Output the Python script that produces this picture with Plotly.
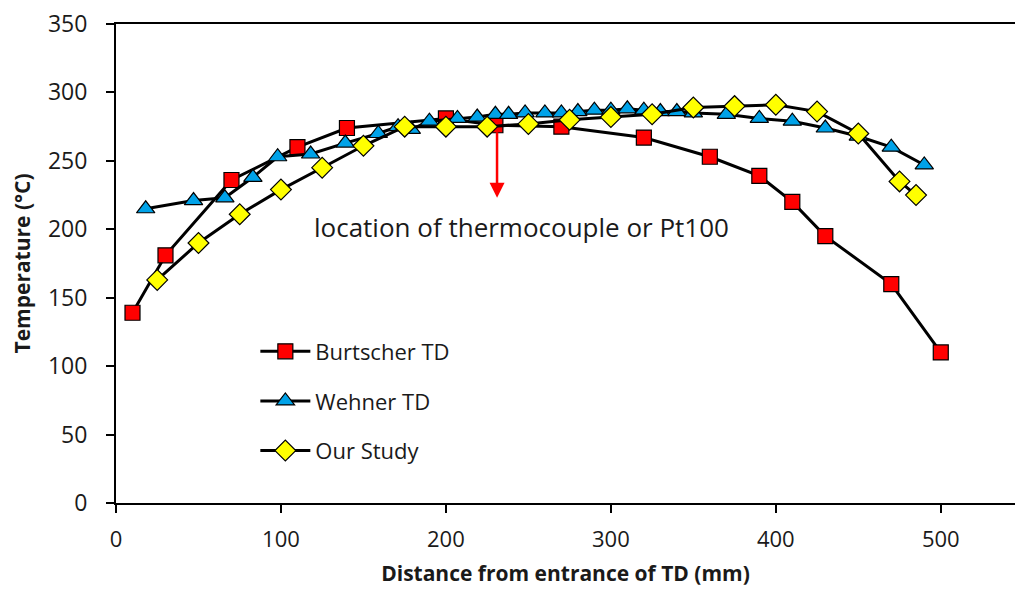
import plotly.graph_objects as go

burt_x = [10, 30, 70, 110, 140, 200, 230, 270, 320, 360, 390, 410, 430, 470, 500]
burt_y = [139, 181, 236, 260, 274, 281, 276, 275, 267, 253, 239, 220, 195, 160, 110]

weh_x = [18, 47, 66, 83, 98, 118, 139, 159, 171, 179, 190, 207, 219, 230, 238, 248,
         260, 270, 280, 290, 300, 310, 320, 330, 340, 350, 370, 390, 410, 430, 450, 470, 490]
weh_y = [215, 221, 223, 238, 253, 255, 263, 270, 275, 273, 279, 281, 282, 284, 284, 285,
         285, 285, 286, 287, 287, 288, 287, 286, 286, 285, 284, 281, 279, 274, 268, 260, 247]

our_x = [25, 50, 75, 100, 125, 150, 175, 200, 225, 250, 275, 300, 325, 350, 375, 400, 425, 450, 475, 485]
our_y = [163, 190, 211, 229, 245, 261, 275, 275, 275, 277, 280, 282, 284, 289, 290, 291, 286, 270, 235, 225]

x_ticks = [0, 100, 200, 300, 400, 500]
y_ticks = [0, 50, 100, 150, 200, 250, 300, 350]

font_fam = "Open Sans, Liberation Sans, sans-serif"

fig = go.Figure()
fig.add_trace(go.Scatter(x=burt_x, y=burt_y, mode="lines+markers", name="Burtscher TD",
                         legendgroup="a",
                         line=dict(color="black", width=3),
                         marker=dict(symbol="square", size=15, color="#ff0000",
                                     line=dict(color="black", width=1.2))))
fig.add_trace(go.Scatter(x=weh_x, y=weh_y, mode="lines+markers", name="Wehner TD",
                         legendgroup="b",
                         line=dict(color="black", width=3),
                         marker=dict(symbol="triangle-up", size=16, color="#00a2e8",
                                     line=dict(color="black", width=1.2))))
fig.add_trace(go.Scatter(x=our_x, y=our_y, mode="lines+markers", name="Our Study",
                         legendgroup="c",
                         line=dict(color="black", width=3),
                         marker=dict(symbol="diamond", size=16, color="#ffff00",
                                     line=dict(color="black", width=1.2))))

fig.add_annotation(x=231, y=223, ax=231, ay=272, xref="x", yref="y", axref="x", ayref="y",
                   showarrow=True, arrowhead=2, arrowsize=1.2, arrowwidth=2.5,
                   arrowcolor="#ff0000", text="")
fig.add_annotation(x=246, y=202, xref="x", yref="y", showarrow=False,
                   text="location of thermocouple or Pt100",
                   font=dict(family=font_fam, size=26, color="#1a1a1a"))

fig.update_layout(
    width=1015, height=592,
    margin=dict(l=116, r=0, t=24, b=89),
    paper_bgcolor="white", plot_bgcolor="white",
    font=dict(family=font_fam, size=20, color="#1a1a1a"),
    showlegend=True,
    legend=dict(x=0.155, y=0.36, xanchor="left", yanchor="top",
                bgcolor="rgba(0,0,0,0)", font=dict(size=22),
                itemwidth=50, tracegroupgap=18),
    xaxis=dict(range=[0, 545], tickvals=x_ticks, showgrid=False, zeroline=False,
               showline=True, linecolor="black", linewidth=2, mirror=True,
               ticks="outside", ticklen=8, tickcolor="black", tickwidth=1.5,
               tickfont=dict(size=22), ticklabelstandoff=8,
               title=dict(text="<b>Distance from entrance of TD (mm)</b>",
                          font=dict(size=21), standoff=14)),
    yaxis=dict(range=[0, 350], tickvals=y_ticks, showgrid=False, zeroline=False,
               showline=True, linecolor="black", linewidth=2,
               ticks="outside", ticklen=8, tickcolor="black", tickwidth=1.5,
               tickfont=dict(size=23), ticklabelstandoff=14,
               title=dict(text="<b>Temperature (°C)</b>", font=dict(size=21), standoff=12)),
)

fig.write_html("out.html")
